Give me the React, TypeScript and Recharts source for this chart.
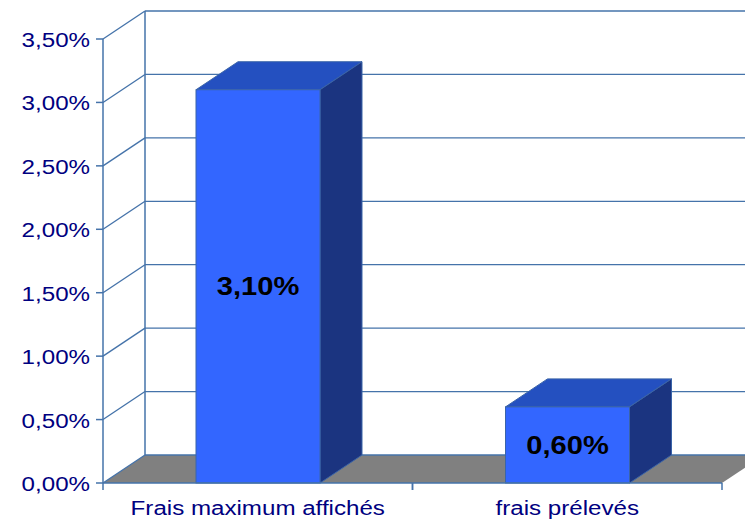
import { BarChart, Bar, XAxis, YAxis, CartesianGrid, LabelList } from "recharts";

const categories = ["Frais maximum affichés", "frais prélevés"];
const frais = [3.1, 0.6];
const yTicks = [0, 0.5, 1, 1.5, 2, 2.5, 3, 3.5];

const data = categories.map((name, i) => ({ name, frais: frais[i] }));

const W = 745;
const H = 519;
const LEFT = 103;
const RIGHT = 23;
const DX = 42; // depth of the 3D box
const DY = -28;
const LINE = "#4573aa";
const NAVY = "#000080";
const FONT = "'Liberation Sans', Arial, sans-serif";
const STRETCH = 1.15;
const HALF_BAND = (W - LEFT - RIGHT) / categories.length / 2;

const fmt = (v: number) => v.toFixed(2).replace(".", ",") + "%";

// back wall gridline + diagonal from the front axis; the zero line also gets the floor
function GridLine(p: any) {
  const { x1, y1, x2, y, height } = p;
  const isFloor = Math.abs(y1 - (y + height)) < 0.5;
  return (
    <g key={p.key}>
      {isFloor && (
        <polygon
          points={`${x1},${y1} ${x2},${y1} ${x2 + DX},${y1 + DY} ${x1 + DX},${y1 + DY}`}
          fill="#808080"
        />
      )}
      {isFloor && (
        <line x1={x1 + DX} y1={y + DY} x2={x1 + DX} y2={y1 + DY} stroke={LINE} strokeWidth={1.5} />
      )}
      <line x1={x1} y1={y1} x2={x1 + DX} y2={y1 + DY} stroke={LINE} strokeWidth={1.3} />
      <line x1={x1 + DX} y1={y1 + DY} x2={x2 + DX} y2={y1 + DY} stroke={LINE} strokeWidth={1.3} />
    </g>
  );
}

function Box(p: any) {
  const { x, y, width: w, height: h } = p;
  if (!w || !h) return null;
  return (
    <g>
      <polygon
        points={`${x},${y} ${x + DX},${y + DY} ${x + w + DX},${y + DY} ${x + w},${y}`}
        fill="#2450c0"
        stroke="#3a64a8"
      />
      <polygon
        points={`${x + w},${y} ${x + w + DX},${y + DY} ${x + w + DX},${y + h + DY} ${x + w},${y + h}`}
        fill="#1b3480"
        stroke="#3a64a8"
      />
      <rect x={x} y={y} width={w} height={h} fill="#3366ff" stroke="#3a64a8" />
    </g>
  );
}

function ValueLabel(p: any) {
  const { x, y, width, height, value } = p;
  const cx = x + width / 2;
  const cy = y + height / 2;
  return (
    <text
      transform={`translate(${cx},${cy + 9}) scale(1.12,1)`}
      textAnchor="middle"
      fontFamily={FONT}
      fontWeight="bold"
      fontSize={26}
      fill="#000"
    >
      {fmt(Number(value))}
    </text>
  );
}

function YTick(p: any) {
  const { x, y, payload } = p;
  return (
    <g>
      <line x1={x - 7} y1={y} x2={x} y2={y} stroke={LINE} strokeWidth={1.5} />
      <text
        transform={`translate(${x - 13},${y + 8}) scale(${STRETCH},1)`}
        textAnchor="end"
        fontFamily={FONT}
        fontSize={21}
        fill={NAVY}
      >
        {fmt(payload.value)}
      </text>
    </g>
  );
}

function XTick(p: any) {
  const { x, y, payload } = p;
  return (
    <g>
      <line x1={x - HALF_BAND} y1={y} x2={x - HALF_BAND} y2={y + 7} stroke={LINE} strokeWidth={1.5} />
      <line x1={x + HALF_BAND} y1={y} x2={x + HALF_BAND} y2={y + 7} stroke={LINE} strokeWidth={1.5} />
      <text
        transform={`translate(${x},${y + 32}) scale(${STRETCH},1)`}
        textAnchor="middle"
        fontFamily={FONT}
        fontSize={21}
        fill={NAVY}
      >
        {payload.value}
      </text>
    </g>
  );
}

export default function App() {
  return (
    <div style={{ position: "absolute", left: 0, top: 0, width: W, height: H, background: "#fff", overflow: "hidden" }}>
      <BarChart width={W} height={H} data={data} margin={{ top: 39, right: RIGHT, left: 0, bottom: 0 }}>
        <CartesianGrid horizontal={GridLine} vertical={false} />
        <XAxis
          dataKey="name"
          height={36}
          tickLine={false}
          tickSize={0}
          tickMargin={0}
          axisLine={{ stroke: LINE, strokeWidth: 1.5 }}
          tick={XTick}
          interval={0}
        />
        <YAxis
          type="number"
          domain={[0, 3.5]}
          ticks={yTicks}
          interval={0}
          width={LEFT}
          tickLine={false}
          tickSize={0}
          tickMargin={0}
          axisLine={{ stroke: LINE, strokeWidth: 1.5 }}
          tick={YTick}
        />
        <Bar dataKey="frais" barSize={124} shape={Box} isAnimationActive={false}>
          <LabelList dataKey="frais" content={ValueLabel} />
        </Bar>
      </BarChart>
    </div>
  );
}
